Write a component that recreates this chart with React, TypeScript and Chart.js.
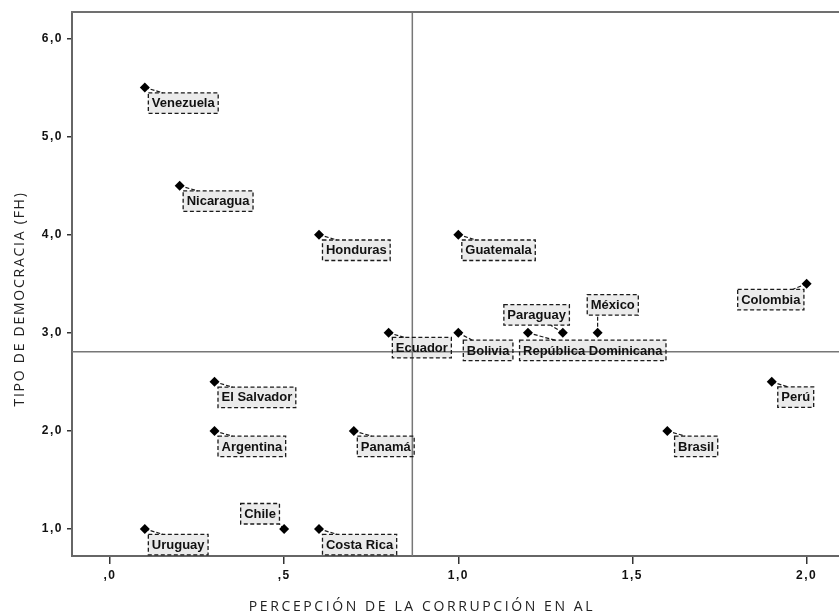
import React, { useEffect, useRef } from "react";
import { Chart, registerables } from "chart.js";

Chart.register(...registerables);

// ---- data ----
const countries = [
  "Venezuela", "Nicaragua", "Honduras", "Guatemala", "Ecuador", "Bolivia",
  "República Dominicana", "Paraguay", "México", "Colombia", "El Salvador", "Perú",
  "Argentina", "Panamá", "Brasil", "Uruguay", "Chile", "Costa Rica",
];
const corruption = [0.1, 0.2, 0.6, 1.0, 0.8, 1.0, 1.2, 1.3, 1.4, 2.0, 0.3, 1.9, 0.3, 0.7, 1.6, 0.1, 0.5, 0.6];
const democracy = [5.5, 4.5, 4.0, 4.0, 3.0, 3.0, 3.0, 3.0, 3.0, 3.5, 2.5, 2.5, 2.0, 2.0, 2.0, 1.0, 1.0, 1.0];
const xTickValues = [0, 0.5, 1.0, 1.5, 2.0];
const xTickLabels = [",0", ",5", "1,0", "1,5", "2,0"];
const yTickValues = [1, 2, 3, 4, 5, 6];
const yTickLabels = ["1,0", "2,0", "3,0", "4,0", "5,0", "6,0"];
const refLineX = 0.868;
const refLineY = 2.807;
const xTitle = "PERCEPCIÓN DE LA CORRUPCIÓN EN AL";
const yTitle = "TIPO DE DEMOCRACIA (FH)";

// ---- label placement (style) ----
type Place = { ax: number; ay: number; h: "l" | "r"; v: "t" | "b"; lx: number; ly: number };
const defaultPlace: Place = { ax: 3.5, ay: 5.3, h: "l", v: "t", lx: 18, ly: 5.3 };
const placements: Record<string, Partial<Place>> = {
  Chile: { ax: -4.7, ay: -5, h: "r", v: "b", lx: -4.7, ly: -5 },
  Paraguay: { ax: 6.6, ay: -7.6, h: "r", v: "b", lx: -12, ly: -7.6 },
  "México": { ax: -10.4, ay: -17.6, h: "l", v: "b", lx: 0, ly: -17.6 },
  "República Dominicana": { ax: -8.4, ay: 7.4, lx: 27, ly: 7.4 },
  Bolivia: { ax: 5, ay: 7.4, lx: 14, ly: 7.4 },
  Colombia: { ax: -2.7, ay: 5.7, h: "r", lx: -14, ly: 5.7 },
  "Perú": { ax: 6, ay: 5, lx: 16, ly: 5 },
  Brasil: { ax: 7.3, ay: 5.3, lx: 18, ly: 5.3 },
  Ecuador: { ax: 3.7, ay: 4.6, lx: 16, ly: 4.6 },
};

const LABEL_FONT = "bold 13px 'Liberation Sans', Arial, sans-serif";
const TITLE_FONT = "14px 'Open Sans', 'Noto Sans', sans-serif";

const labelPlugin = {
  id: "countryLabels",
  beforeDraw(chart: any) {
    chart.ctx.letterSpacing = "1.5px";
  },
  beforeDatasetsDraw(chart: any) {
    const ctx = chart.ctx as CanvasRenderingContext2D;
    const xs = chart.scales.x;
    const ys = chart.scales.y;
    const area = chart.chartArea;
    ctx.save();
    (ctx as any).letterSpacing = "0px";
    ctx.font = LABEL_FONT;
    const boxes = countries.map((name, i) => {
      const p = { ...defaultPlace, ...(placements[name] || {}) };
      const px = xs.getPixelForValue(corruption[i]);
      const py = ys.getPixelForValue(democracy[i]);
      const tw = ctx.measureText(name).width;
      const w = tw + 7;
      const h = 20.5;
      const left = p.h === "l" ? px + p.ax : px + p.ax - w;
      const top = p.v === "t" ? py + p.ay : py + p.ay - h;
      return { name, px, py, left, top, w, h, p };
    });
    // fills
    ctx.fillStyle = "#ebebeb";
    boxes.forEach((b) => ctx.fillRect(b.left, b.top, b.w, b.h));
    // reference lines
    ctx.strokeStyle = "#777";
    ctx.lineWidth = 1.5;
    const rx = xs.getPixelForValue(refLineX);
    const ry = ys.getPixelForValue(refLineY);
    ctx.beginPath();
    ctx.moveTo(rx, area.top);
    ctx.lineTo(rx, area.bottom);
    ctx.moveTo(area.left, ry);
    ctx.lineTo(area.right, ry);
    ctx.stroke();
    // leaders, borders, text
    ctx.strokeStyle = "#1a1a1a";
    boxes.forEach((b) => {
      ctx.setLineDash([4, 2]);
      ctx.lineWidth = 1.2;
      ctx.beginPath();
      ctx.moveTo(b.px, b.py);
      ctx.lineTo(b.px + b.p.lx, b.py + b.p.ly);
      ctx.stroke();
      ctx.setLineDash([4, 2.5]);
      ctx.lineWidth = 1.3;
      ctx.strokeRect(b.left, b.top, b.w, b.h);
      ctx.setLineDash([]);
      ctx.fillStyle = "#111";
      ctx.textBaseline = "middle";
      ctx.textAlign = "left";
      ctx.fillText(b.name, b.left + 3.5, b.top + b.h / 2 + 0.5);
    });
    ctx.restore();
  },
  afterDraw(chart: any) {
    const ctx = chart.ctx as CanvasRenderingContext2D;
    const area = chart.chartArea;
    ctx.save();
    ctx.strokeStyle = "#707070";
    ctx.lineWidth = 2;
    ctx.beginPath();
    ctx.moveTo(area.left - 1, area.top);
    ctx.lineTo(chart.width, area.top);
    ctx.stroke();
    ctx.font = TITLE_FONT;
    ctx.fillStyle = "#222";
    ctx.textAlign = "center";
    ctx.textBaseline = "alphabetic";
    (ctx as any).letterSpacing = "2.6px";
    ctx.fillText(xTitle, 422, 611);
    (ctx as any).letterSpacing = "1.75px";
    ctx.translate(24, 299);
    ctx.rotate(-Math.PI / 2);
    ctx.fillText(yTitle, 0, 0);
    ctx.restore();
  },
};

export default function App() {
  const ref = useRef<HTMLCanvasElement | null>(null);
  useEffect(() => {
    document.body.style.margin = "0";
    const canvas = ref.current!;
    const chart = new Chart(canvas, {
      type: "scatter",
      data: {
        datasets: [
          {
            data: corruption.map((x, i) => ({ x, y: democracy[i] })),
            pointStyle: "rectRot",
            pointRadius: 5,
            backgroundColor: "#000",
            borderColor: "#000",
            borderWidth: 0,
          },
        ],
      },
      options: {
        animation: false,
        responsive: false,
        events: [],
        layout: { autoPadding: false, padding: { top: 12, right: 0, left: 0, bottom: 0 } },
        plugins: { legend: { display: false }, tooltip: { enabled: false } },
        scales: {
          x: {
            type: "linear",
            min: -0.1091,
            max: 2.093,
            afterFit: (s: any) => { s.height = 58; s.paddingLeft = 0; s.paddingRight = 0; },
            afterBuildTicks: (s: any) => { s.ticks = xTickValues.map((v) => ({ value: v })); },
            ticks: {
              includeBounds: false,
              callback: (_v: any, i: number) => xTickLabels[i],
              font: { family: "'Liberation Sans', Arial, sans-serif", size: 12, weight: "bold" },
              color: "#111",
              padding: 4,
              maxRotation: 0,
            },
            grid: { drawOnChartArea: false, drawTicks: true, tickLength: 8, color: "#333", lineWidth: 1.5 },
            border: { display: true, color: "#666", width: 2 },
          },
          y: {
            type: "linear",
            min: 0.7248,
            max: 6.27,
            afterFit: (s: any) => { s.width = 72; s.paddingTop = 0; s.paddingBottom = 0; },
            afterBuildTicks: (s: any) => { s.ticks = yTickValues.map((v) => ({ value: v })); },
            ticks: {
              includeBounds: false,
              callback: (_v: any, i: number) => yTickLabels[i],
              font: { family: "'Liberation Sans', Arial, sans-serif", size: 12, weight: "bold" },
              color: "#111",
              padding: 4,
            },
            grid: { drawOnChartArea: false, drawTicks: true, tickLength: 5, color: "#333", lineWidth: 1.5 },
            border: { display: true, color: "#666", width: 2 },
          },
        },
      },
      plugins: [labelPlugin],
    } as any);
    return () => chart.destroy();
  }, []);
  return (
    <div style={{ width: 839, height: 614 }}>
      <canvas ref={ref} width={839} height={614} style={{ display: "block" }} />
    </div>
  );
}
